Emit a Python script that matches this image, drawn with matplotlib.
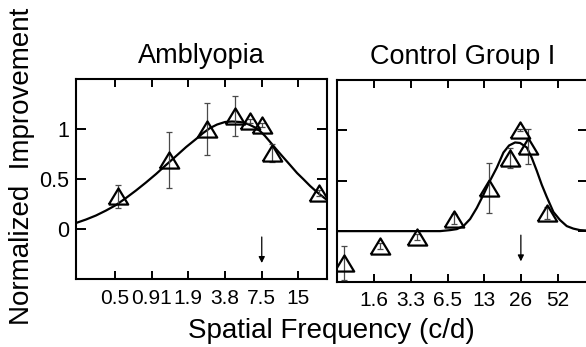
import matplotlib
matplotlib.use("Agg")
import matplotlib.pyplot as plt

plt.rcParams['font.family'] = ['Liberation Sans', 'DejaVu Sans']

# ---- data: Amblyopia ----
amb_freq = [0.5, 1.31, 2.65, 4.5, 6.0, 7.5, 9.1, 22.3]
amb_val = [0.33, 0.69, 1.00, 1.135, 1.08, 1.045, 0.765, 0.365]
amb_err = [0.115, 0.28, 0.26, 0.20, 0.02, 0.02, 0.09, 0.03]
amb_fit_freq = [0.225, 0.272, 0.328, 0.397, 0.479, 0.578, 0.698, 0.843, 1.02,
                1.23, 1.49, 1.80, 2.17, 2.48, 2.83, 3.23, 3.75, 4.28, 4.98,
                5.48, 6.01, 6.61, 7.26, 7.98, 8.79, 9.82, 11.2, 12.8, 14.6,
                16.4, 18.7, 21.7, 25.7]
amb_fit_val = [0.06, 0.095, 0.135, 0.185, 0.24, 0.31, 0.385, 0.465, 0.55,
               0.64, 0.73, 0.82, 0.90, 0.96, 1.01, 1.045, 1.07, 1.075, 1.07,
               1.06, 1.04, 1.015, 0.98, 0.93, 0.87, 0.80, 0.72, 0.64, 0.56,
               0.50, 0.43, 0.36, 0.29]
amb_ticks = [0.469, 0.9375, 1.875, 3.75, 7.5, 15]
amb_ticklabels = ['0.5', '0.91', '1.9', '3.8', '7.5', '15']
amb_arrow = 7.5

# ---- data: Control Group I ----
ctl_freq = [0.92, 1.83, 3.66, 7.3, 14.3, 21.2, 25.7, 29.5, 42.4]
ctl_val = [-0.32, -0.145, -0.06, 0.12, 0.43, 0.725, 1.005, 0.84, 0.18]
ctl_err = [0.17, 0.03, 0.03, 0.05, 0.25, 0.10, 0.01, 0.17, 0.06]
ctl_fit_freq = [0.80, 5.65, 6.83, 7.75, 8.78, 9.96, 11.3, 12.8, 14.5, 16.5,
                18.7, 20.8, 23.3, 25.6, 29.1, 31.9, 35.1, 38.6, 42.4, 48.1,
                54.5, 61.9, 70.1, 79.5, 92.5]
ctl_fit_val = [0.0, 0.0, 0.01, 0.02, 0.05, 0.12, 0.23, 0.36, 0.50, 0.63,
               0.78, 0.85, 0.88, 0.875, 0.83, 0.73, 0.60, 0.46, 0.34, 0.19,
               0.11, 0.05, 0.025, 0.01, 0.005]
ctl_ticks = [1.625, 3.25, 6.5, 13, 26, 52]
ctl_ticklabels = ['1.6', '3.3', '6.5', '13', '26', '52']
ctl_arrow = 26

W, H = 586, 347
fig = plt.figure(figsize=(W / 100, H / 100), dpi=100)

def box(x0, y0, x1, y1):
    return [x0 / W, 1 - y1 / H, (x1 - x0) / W, (y1 - y0) / H]

ax1 = fig.add_axes(box(76, 79, 327, 279))
ax2 = fig.add_axes(box(336.7, 80, 588, 281.5))

tri = [(-1, -0.83), (1, -0.83), (0, 0.83), (-1, -0.83)]

def draw(ax, f, v, e, ff, fv, ticks, labels, xlim, arrow_x, arrow_y, title, ylabels):
    ax.set_xscale('log')
    ax.plot(ff, fv, color='black', lw=1.6, zorder=2,
            solid_joinstyle='round', solid_capstyle='round')
    ax.errorbar(f, v, yerr=e, fmt='none', ecolor='#4a4a4a', elinewidth=0.9,
                capsize=2.2, capthick=0.9, zorder=3)
    ax.plot(f, v, linestyle='none', marker=tri, markersize=14,
            markerfacecolor='none', markeredgecolor='black', markeredgewidth=1.6,
            zorder=4)
    ax.annotate('', xy=(arrow_x, arrow_y[1]), xytext=(arrow_x, arrow_y[0]),
                arrowprops=dict(arrowstyle='-|>', lw=0.9, color='black',
                                mutation_scale=9, shrinkA=0, shrinkB=0))
    ax.set_xlim(*xlim)
    ax.set_ylim(-0.5, 1.5)
    ax.set_xticks(ticks)
    ax.set_xticklabels(labels)
    ax.xaxis.set_minor_locator(matplotlib.ticker.NullLocator())
    ax.set_yticks([0, 0.5, 1])
    if ylabels:
        ax.set_yticklabels(['0', '0.5', '1'])
    else:
        ax.set_yticklabels([])
    ax.tick_params(axis='x', direction='in', top=True, bottom=True, length=5.5,
                   width=1.4, labelsize=15, pad=7)
    ax.tick_params(axis='y', direction='in', left=True, right=True, length=7,
                   width=1.4, labelsize=15.5, pad=5)
    for s in ax.spines.values():
        s.set_linewidth(1.5)
    ax.set_title(title, fontsize=19.5, y=1.0785, pad=0)

draw(ax1, amb_freq, amb_val, amb_err, amb_fit_freq, amb_fit_val,
     amb_ticks, amb_ticklabels, (0.225, 25.7), amb_arrow, (-0.08, -0.34),
     'Amblyopia', True)
draw(ax2, ctl_freq, ctl_val, ctl_err, ctl_fit_freq, ctl_fit_val,
     ctl_ticks, ctl_ticklabels, (0.80, 92.5), ctl_arrow, (-0.04, -0.30),
     'Control Group I', False)

fig.text(331.5 / W, 1 - 338 / H, 'Spatial Frequency (c/d)', fontsize=20,
         ha='center', va='baseline')
fig.text(22.5 / W, 1 - 166 / H, 'Normalized  Improvement', fontsize=20,
         rotation=90, ha='center', va='center')

fig.savefig('out.png', dpi=100)
